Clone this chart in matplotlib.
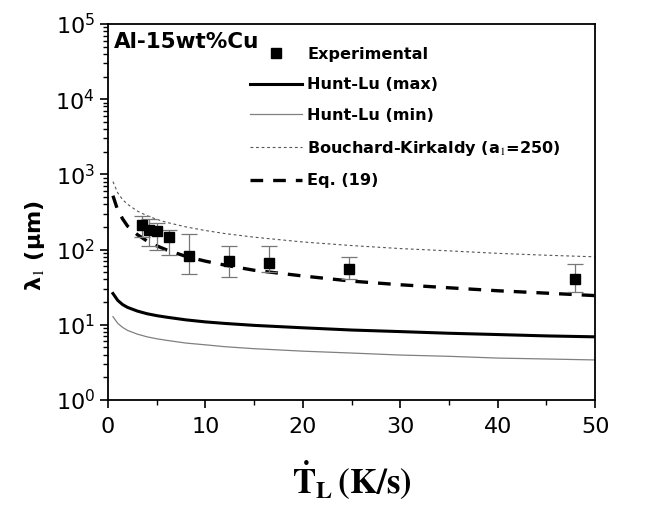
import matplotlib
matplotlib.use('Agg')
import matplotlib.pyplot as plt
from matplotlib.ticker import LogLocator, NullFormatter, MultipleLocator

plt.rcParams['font.family'] = ['DejaVu Sans']
plt.rcParams['mathtext.fontset'] = 'stix'

# model curves
x_curve = [0.5, 1, 1.5, 2, 3, 4, 5, 6, 8, 10, 12, 15, 20, 25, 30, 35, 40, 45, 50]
hunt_max = [26, 21, 18.5, 17, 15.2, 14, 13.2, 12.6, 11.6, 10.9, 10.4, 9.8, 9.1, 8.5, 8.1, 7.7, 7.4, 7.1, 6.9]
hunt_min = [12.8, 10.4, 9.2, 8.4, 7.5, 6.9, 6.5, 6.2, 5.7, 5.4, 5.1, 4.8, 4.45, 4.2, 3.95, 3.8, 3.6, 3.5, 3.4]
bouchard = [800, 565, 460, 400, 325, 282, 252, 230, 200, 179, 163, 146, 126, 113, 103, 96, 89, 84, 80]
eq19 = [520, 330, 255, 205, 158, 130, 112, 99, 81, 70, 62, 53, 44.5, 38, 34, 31, 28.3, 26.3, 24.4]

# experimental points
x_exp = [3.5, 4.2, 5.0, 6.3, 8.3, 12.4, 16.5, 24.7, 47.9]
y_exp = [214, 180, 177, 147, 83, 71, 66, 55, 40]
y_top = [279, 252, 228, 180, 163, 112, 112, 79, 64]
y_bot = [147, 110, 100, 85, 48, 43, 51, 40, 27]

fig = plt.figure(figsize=(6.59, 5.16), dpi=100)
ax = fig.add_axes([0.164, 0.225, 0.739, 0.7285])

yerr = [[y - b for y, b in zip(y_exp, y_bot)], [t - y for y, t in zip(y_exp, y_top)]]
ax.errorbar(x_exp, y_exp, yerr=yerr, fmt='none', ecolor='#777777', elinewidth=0.9,
            capsize=6, capthick=0.9, zorder=3)
ax.plot(x_exp, y_exp, 's', color='k', markersize=7, label='Experimental', zorder=4)
ax.plot(x_curve, hunt_max, color='k', lw=2.2, label='Hunt-Lu (max)')
ax.plot(x_curve, hunt_min, color='#808080', lw=0.9, label='Hunt-Lu (min)')
ax.plot(x_curve, bouchard, color='#555555', lw=0.8, dashes=(2.5, 2.5),
        label='Bouchard-Kirkaldy (a$_1$=250)')
ax.plot(x_curve, eq19, color='k', lw=2.4, dashes=(3.8, 3), label='Eq. (19)')

ax.set_yscale('log')
ax.set_xlim(0, 50)
ax.set_ylim(1, 1e5)
ax.xaxis.set_major_locator(MultipleLocator(10))
ax.xaxis.set_minor_locator(MultipleLocator(5))
ax.yaxis.set_major_locator(LogLocator(base=10, numticks=10))
ax.yaxis.set_minor_locator(LogLocator(base=10, subs=range(2, 10), numticks=10))
ax.yaxis.set_minor_formatter(NullFormatter())
ax.tick_params(which='major', direction='out', length=6, width=1.2, labelsize=16)
ax.tick_params(which='minor', direction='out', length=3.5, width=1)
ax.tick_params(axis='x', pad=6)
for s in ax.spines.values():
    s.set_linewidth(1.3)

ax.set_ylabel('λ$_1$ (μm)', fontsize=16, fontweight='bold')
ax.yaxis.set_label_coords(-0.125, 0.41)
ax.set_xlabel(r'$\mathbf{\dot{T}}_\mathbf{L}\,\mathbf{(K/s)}$', fontsize=25, labelpad=16)

ax.text(0.012, 0.978, 'Al-15wt%Cu', transform=ax.transAxes, fontsize=15.5,
        fontweight='bold', va='top', ha='left')

leg = ax.legend(loc='upper left', bbox_to_anchor=(0.262, 0.978), frameon=False,
                prop={'weight': 'bold', 'size': 11.6}, handlelength=3.2,
                handletextpad=0.35, labelspacing=0.97, markerfirst=True)

fig.savefig('out.png', dpi=100)
